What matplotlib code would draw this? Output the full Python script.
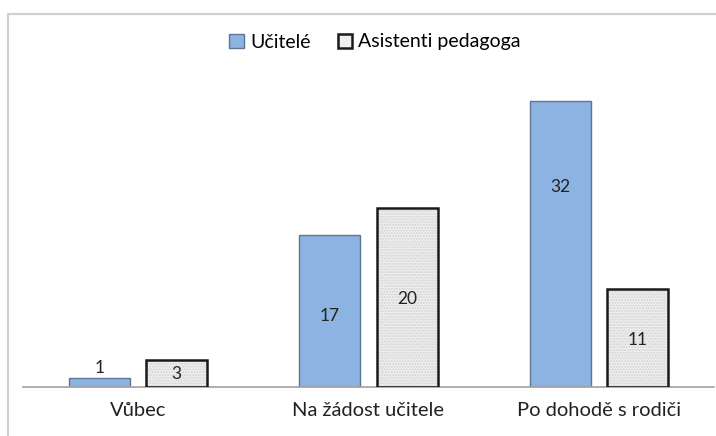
import matplotlib.pyplot as plt
import numpy as np
from matplotlib.patches import Rectangle

# data
categories = ["Vůbec", "Na žádost učitele", "Po dohodě s rodiči"]
series_names = ["Učitelé", "Asistenti pedagoga"]
ucitele = [1, 17, 32]
asistenti = [3, 20, 11]

plt.rcParams["font.family"] = ["Lato", "DejaVu Sans"]

fig = plt.figure(figsize=(7.16, 4.36), dpi=100)
ax = fig.add_axes([23 / 716, 49 / 436, 691 / 716, 313 / 436])

x = np.arange(len(categories))
width = 0.265
offset = 0.168

blue = "#8DB3E2"
bars1 = ax.bar(x - offset, ucitele, width, color=blue, edgecolor="#5F7590",
               linewidth=1.0, label=series_names[0], zorder=2)
# speckled fill for assistants
ax.bar(x + offset, asistenti, width, color="#EFEFEF", edgecolor="#D2D2D2",
       hatch="......", linewidth=0, zorder=2)
bars2 = ax.bar(x + offset, asistenti, width, color="none", edgecolor="#1a1a1a",
               linewidth=1.8, zorder=3)

# value labels
label_frac1 = [None, 0.47, 0.70]
label_frac2 = [0.5, 0.49, 0.48]
for i, v in enumerate(ucitele):
    if label_frac1[i] is None:
        ax.text(x[i] - offset, v + 0.2, str(v), ha="center", va="bottom",
                fontsize=12.5, color="#222222")
    else:
        ax.text(x[i] - offset, v * label_frac1[i], str(v), ha="center",
                va="center", fontsize=12.5, color="#222222")
for i, v in enumerate(asistenti):
    ax.text(x[i] + offset, v * label_frac2[i], str(v), ha="center",
            va="center", fontsize=12.5, color="#222222")

ax.set_xlim(-0.5, 2.5)
ax.set_ylim(0, 35)
ax.set_xticks(x)
ax.set_xticklabels(categories, fontsize=14.5, color="#222222")
ax.tick_params(axis="x", length=0, pad=11)
ax.set_yticks([])
for s in ["top", "right", "left"]:
    ax.spines[s].set_visible(False)
ax.spines["bottom"].set_color("#A0A0A0")
ax.spines["bottom"].set_linewidth(1.2)

# legend
h1 = Rectangle((0, 0), 1, 1, facecolor=blue, edgecolor="#5F7590", linewidth=1.0)
h2 = Rectangle((0, 0), 1, 1, facecolor="#EFEFEF", edgecolor="#1a1a1a", linewidth=1.8)
fig.legend([h1, h2], series_names, loc="center", bbox_to_anchor=(375 / 716, 1 - 42 / 436),
           ncol=2, frameon=False, fontsize=14, handlelength=0.75, handleheight=0.75,
           handletextpad=0.3, columnspacing=1.4)

# outer chart border
fig.patches.append(Rectangle((8 / 716, -0.1), 1.2, 1 - 14 / 436 + 0.1,
                             transform=fig.transFigure, fill=False,
                             edgecolor="#D0D0D0", linewidth=1.5))

fig.savefig("out.png", dpi=100)
